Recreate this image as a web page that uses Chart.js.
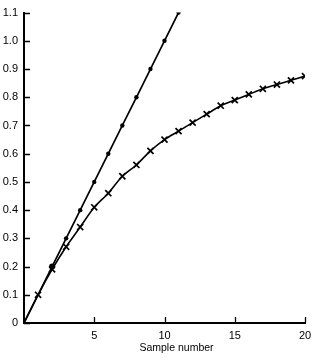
<!DOCTYPE html>
<html>
<head>
<meta charset="utf-8">
<script src="https://cdn.jsdelivr.net/npm/chart.js@4/dist/chart.umd.min.js"></script>
<style>
  html, body { margin: 0; padding: 0; background: #fff; }
  #wrap { width: 320px; height: 362px; }
</style>
</head>
<body>
<div id="wrap"><canvas id="chart" width="320" height="362"></canvas></div>
<script>
// straight line (dots) and the saturating curve (crosses)
const lineX = [0, 1, 2, 3, 4, 5, 6, 7, 8, 9, 10, 11];
const lineY = [0, 0.1, 0.2, 0.3, 0.4, 0.5, 0.6, 0.7, 0.8, 0.9, 1.0, 1.1];

const curveX = [0, 1, 2, 3, 4, 5, 6, 7, 8, 9, 10, 11, 12, 13, 14, 15, 16, 17, 18, 19, 20];
const curveY = [0, 0.1, 0.19, 0.27, 0.34, 0.41, 0.46, 0.52, 0.56, 0.61, 0.65, 0.68, 0.71, 0.74, 0.77, 0.79, 0.81, 0.83, 0.845, 0.86, 0.875];

const yTicks = [0, 0.1, 0.2, 0.3, 0.4, 0.5, 0.6, 0.7, 0.8, 0.9, 1.0, 1.1];
const xTicks = [5, 10, 15, 20];
const xTitle = "Sample number";

const toPoints = (xs, ys) => xs.map((x, i) => ({ x: x, y: ys[i] }));

// short tick marks pointing into the plot, and the x title (sits a bit right of centre)
const axisExtras = {
  id: "axisExtras",
  afterDraw(c) {
    const ctx = c.ctx;
    const xs = c.scales.x, ys = c.scales.y;
    ctx.save();
    ctx.strokeStyle = "#000";
    ctx.lineWidth = 1.3;
    ctx.beginPath();
    yTicks.forEach(v => {
      const py = Math.round(ys.getPixelForValue(v)) + 0.5;
      ctx.moveTo(xs.left, py);
      ctx.lineTo(xs.left + 6, py);
    });
    xTicks.forEach(v => {
      const px = Math.round(xs.getPixelForValue(v)) + 0.5;
      ctx.moveTo(px, ys.bottom);
      ctx.lineTo(px, ys.bottom - 6);
    });
    ctx.stroke();
    ctx.fillStyle = "#000";
    ctx.font = "10.5px 'Liberation Sans', Arial, sans-serif";
    ctx.textAlign = "center";
    ctx.textBaseline = "middle";
    ctx.fillText(xTitle, (xs.left + xs.right) / 2 + 12, ys.bottom + 25);
    ctx.restore();
  }
};

Chart.defaults.font.family = "'Liberation Sans', Arial, sans-serif";
Chart.defaults.color = "#000";

new Chart(document.getElementById("chart").getContext("2d"), {
  type: "scatter",
  data: {
    datasets: [
      {
        data: toPoints(curveX, curveY),
        showLine: true,
        borderColor: "#000",
        borderWidth: 1.6,
        tension: 0.3,
        pointStyle: "crossRot",
        pointRadius: curveX.map((x, i) => (i === 0 ? 0 : 4.3)),
        pointBorderWidth: 1.7,
        pointBorderColor: "#000",
        pointBackgroundColor: "#000",
      },
      {
        data: toPoints(lineX, lineY),
        showLine: true,
        borderColor: "#000",
        borderWidth: 1.7,
        tension: 0,
        pointStyle: "circle",
        pointRadius: lineX.map((x, i) => (i < 2 ? 0 : i === 2 ? 3 : 2.2)),
        pointBorderWidth: 0,
        pointBackgroundColor: "#000",
      },
    ],
  },
  options: {
    responsive: false,
    animation: false,
    layout: { padding: { top: 5, right: 15, left: 0, bottom: 0 } },
    plugins: {
      legend: { display: false },
      tooltip: { enabled: false },
    },
    scales: {
      x: {
        type: "linear",
        min: 0,
        max: 20,
        afterFit: s => { s.height = 39; },
        grid: { display: false, drawTicks: false },
        border: { display: true, color: "#000", width: 2 },
        ticks: {
          stepSize: 5,
          padding: 6,
          font: { size: 11 },
          callback: v => (v === 0 ? "" : v),
        },
      },
      y: {
        min: 0,
        max: 1.1,
        afterFit: s => { s.width = 24; },
        afterBuildTicks: s => { s.ticks = yTicks.map(v => ({ value: v })); },
        grid: { display: false, drawTicks: false },
        border: { display: true, color: "#000", width: 2 },
        ticks: {
          padding: 6,
          font: { size: 11 },
          callback: v => (v === 0 ? "0" : v.toFixed(1)),
        },
      },
    },
  },
  plugins: [axisExtras],
});
</script>
</body>
</html>
